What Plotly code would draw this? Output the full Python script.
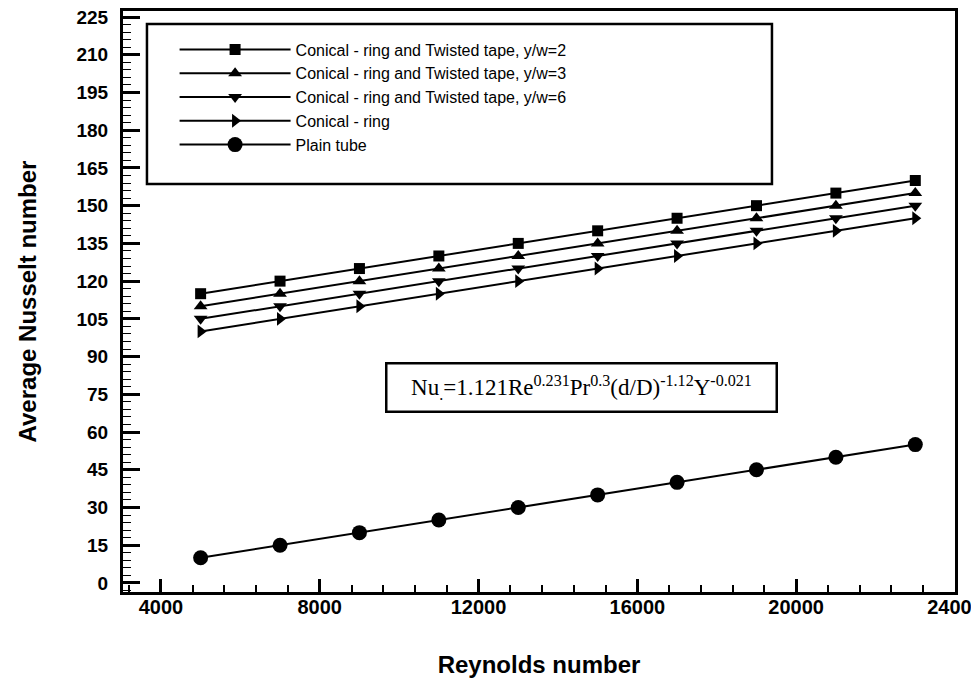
import plotly.graph_objects as go

# ---------------- data ----------------
reynolds = [5000, 7000, 9000, 11000, 13000, 15000, 17000, 19000, 21000, 23000]
nu_tape_yw2 = [115, 120, 125, 130, 135, 140, 145, 150, 155, 160]
nu_tape_yw3 = [110, 115, 120, 125, 130, 135, 140, 145, 150, 155]
nu_tape_yw6 = [105, 110, 115, 120, 125, 130, 135, 140, 145, 150]
nu_ring = [100, 105, 110, 115, 120, 125, 130, 135, 140, 145]
nu_plain = [10, 15, 20, 25, 30, 35, 40, 45, 50, 55]

series_names = [
    "Conical - ring and Twisted tape, y/w=2",
    "Conical - ring and Twisted tape, y/w=3",
    "Conical - ring and Twisted tape, y/w=6",
    "Conical - ring",
    "Plain tube",
]
series_values = [nu_tape_yw2, nu_tape_yw3, nu_tape_yw6, nu_ring, nu_plain]
series_symbols = ["square", "triangle-up", "triangle-down", "triangle-right", "circle"]
series_sizes = [11, 12, 12, 12, 15]

x_tick_vals = [4000, 8000, 12000, 16000, 20000, 24000]
x_tick_text = ["4000", "8000", "12000", "16000", "20000", "24000"]
y_tick_vals = [0, 15, 30, 45, 60, 75, 90, 105, 120, 135, 150, 165, 180, 195, 210, 225]
y_tick_text = [str(v) for v in y_tick_vals]

# ---------------- figure ----------------
fig = go.Figure()
for name, vals, sym, sz in zip(series_names, series_values, series_symbols, series_sizes):
    fig.add_trace(go.Scatter(
        x=reynolds, y=vals, name=name, mode="lines+markers",
        line=dict(color="black", width=2),
        marker=dict(symbol=sym, size=sz, color="black", line=dict(width=0)),
    ))

sans = "Liberation Sans, Arial, sans-serif"

# the page body adds an 8px offset, so the figure is 8px smaller and shifted
fig.update_layout(
    template="none",
    width=971, height=671,
    margin=dict(l=115, r=24, t=3, b=87, autoexpand=False),
    paper_bgcolor="white", plot_bgcolor="white",
    font=dict(family=sans, color="black"),
    showlegend=True,
    legend=dict(
        x=0.062, y=0.963, xanchor="left", yanchor="top",
        bgcolor="rgba(0,0,0,0)", borderwidth=0,
        font=dict(family=sans, size=16, color="black"),
        itemwidth=111,
    ),
)

fig.update_xaxes(
    range=[3045, 24000], automargin=False,
    tickmode="array", tickvals=x_tick_vals, ticktext=x_tick_text,
    ticks="inside", ticklen=13, tickwidth=2.5, tickcolor="black",
    showline=True, linewidth=3, linecolor="black", mirror=True,
    showgrid=False, zeroline=False,
    tickfont=dict(family=sans, size=20, color="black", weight="bold"),
    ticklabelstandoff=-5, ticklabeloverflow="allow",
    minor=dict(ticks="inside", ticklen=7, tickwidth=1.5, tickcolor="black",
               tick0=4000, dtick=800, showgrid=False),
    title=dict(text="Reynolds number", standoff=40,
               font=dict(family=sans, size=24, color="black", weight="bold")),
)

fig.update_yaxes(
    range=[-3.6, 227.4], automargin=False,
    tickmode="array", tickvals=y_tick_vals, ticktext=y_tick_text,
    ticks="inside", ticklen=17, tickwidth=2.5, tickcolor="black",
    showline=True, linewidth=3, linecolor="black", mirror=True,
    showgrid=False, zeroline=False,
    tickfont=dict(family=sans, size=19, color="black", weight="bold"),
    ticklabelstandoff=8, ticklabeloverflow="allow",
    minor=dict(ticks="inside", ticklen=8, tickwidth=1.2, tickcolor="black",
               tick0=0, dtick=3, showgrid=False),
    title=dict(text="Average Nusselt number", standoff=34,
               font=dict(family=sans, size=24, color="black", weight="bold")),
)

# legend frame
fig.add_shape(type="rect", xref="paper", yref="paper",
              x0=0.0288, x1=0.780, y0=0.7022, y1=0.9776,
              line=dict(color="black", width=2.5), fillcolor="rgba(0,0,0,0)")

# correlation box
fig.add_annotation(
    xref="paper", yref="paper", x=0.5505, y=0.352,
    xanchor="center", yanchor="middle", showarrow=False,
    text="Nu<sub>.</sub>=1.121Re<sup>0.231</sup>Pr<sup>0.3</sup>(d/D)<sup>-1.12</sup>Y<sup>-0.021</sup>",
    font=dict(family="Liberation Serif, Times New Roman, serif", size=23, color="black"),
    bordercolor="black", borderwidth=2.5, borderpad=1, bgcolor="white",
    width=386, height=44,
)

fig.write_html("out.html")
